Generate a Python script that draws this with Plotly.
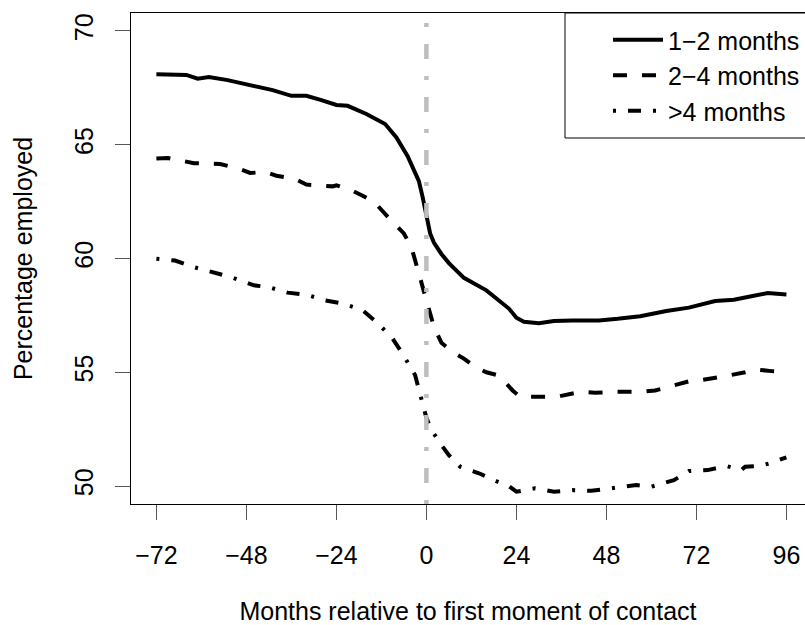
import plotly.graph_objects as go

# ---- data ----
m_12 = [-72, -68, -64, -61, -58, -53, -46, -41, -36, -32, -28, -24, -21, -16, -11,
        -8, -5, -3, -2, -1, 0, 1, 2, 4, 6, 10, 16, 19, 22, 24, 26, 30, 34, 39, 46,
        51, 57, 64, 70, 77, 82, 87, 91, 96]
v_12 = [68.10, 68.08, 68.07, 67.90, 67.98, 67.84, 67.59, 67.40, 67.15, 67.15, 66.96,
        66.75, 66.71, 66.35, 65.91, 65.32, 64.50, 63.70, 63.40, 62.70, 61.90, 61.10,
        60.70, 60.20, 59.80, 59.15, 58.60, 58.20, 57.80, 57.40, 57.22, 57.16, 57.25,
        57.28, 57.28, 57.35, 57.46, 57.69, 57.84, 58.13, 58.19, 58.35, 58.48, 58.42]

m_24 = [-72, -69, -62, -55, -50, -47, -43, -40, -35, -32, -28, -25, -24, -20, -17,
        -14, -11, -8, -6, -4, -3, -2, -1, 0, 1, 2, 4, 7, 10, 13, 16, 19, 21, 23, 25,
        30, 35, 41, 45, 50, 57, 61, 64, 67, 70, 73, 77, 81, 85, 88, 92, 96]
v_24 = [64.40, 64.42, 64.19, 64.15, 63.95, 63.76, 63.80, 63.64, 63.50, 63.25, 63.20,
        63.17, 63.22, 63.00, 62.76, 62.50, 61.96, 61.45, 61.10, 60.50, 59.90, 59.40,
        58.80, 58.20, 57.50, 57.00, 56.30, 55.89, 55.60, 55.23, 55.00, 54.87, 54.55,
        54.20, 53.92, 53.92, 53.93, 54.14, 54.10, 54.14, 54.14, 54.20, 54.33, 54.50,
        54.60, 54.65, 54.75, 54.87, 55.00, 55.12, 55.05, 55.01]

m_4p = [-72, -67, -62, -57, -52, -46, -42, -37, -32, -27, -22, -17, -13, -9, -6, -3,
        -2, -1, 0, 1, 2, 4, 6, 9, 14, 19, 22, 24, 29, 34, 39, 44, 51, 56, 60, 66, 70,
        75, 80, 84, 85, 89, 92, 96]
v_4p = [59.99, 59.91, 59.62, 59.40, 59.18, 58.82, 58.74, 58.50, 58.41, 58.16, 58.01,
        57.72, 57.16, 56.48, 55.72, 54.87, 54.20, 53.60, 53.00, 52.60, 52.30, 51.80,
        51.36, 50.85, 50.56, 50.19, 50.00, 49.75, 49.90, 49.75, 49.82, 49.79, 49.94,
        50.04, 49.97, 50.26, 50.66, 50.70, 50.88, 50.70, 50.85, 50.88, 51.02, 51.26]

series_names = ["1\u22122 months", "2\u22124 months", ">4 months"]
x_ticks = [-72, -48, -24, 0, 24, 48, 72, 96]
y_ticks = [50, 55, 60, 65, 70]
contact_month = 0

FONT = "Liberation Sans, Arial, Helvetica, sans-serif"

fig = go.Figure()
styles = ["solid", "14px,15px", "3px,12px,13px,12px"]
for name, xs, ys, dash in zip(series_names, [m_12, m_24, m_4p], [v_12, v_24, v_4p], styles):
    fig.add_trace(go.Scatter(x=xs, y=ys, mode="lines", name=name,
                             line=dict(color="black", width=4, dash=dash, shape="linear")))

fig.add_shape(type="line", xref="x", yref="paper", x0=contact_month, x1=contact_month,
              y0=0, y1=1, layer="above",
              line=dict(color="#BEBEBE", width=4.5, dash="4px,17px,15px,17px"))

# legend frame (R-style box reaching the plot's top-right corner)
fig.add_shape(type="rect", xref="paper", yref="paper",
              x0=(565 - 131) / 674, x1=1.03, y0=(504 - 138) / 491, y1=1,
              layer="above", fillcolor="white", line=dict(color="black", width=1))

fig.update_layout(
    width=805, height=625,
    margin=dict(l=131, r=0, t=13, b=121),
    paper_bgcolor="white", plot_bgcolor="white",
    font=dict(family=FONT, size=25, color="black"),
    showlegend=True,
    legend=dict(x=1, xanchor="right", y=1 - 4 / 491, yanchor="top",
                borderwidth=0, bgcolor="rgba(0,0,0,0)",
                font=dict(size=25), itemwidth=50, tracegroupgap=0),
    xaxis=dict(range=[-78.77, 100.96], tickvals=x_ticks, ticks="outside", ticklen=15,
               tickcolor="#555", tickwidth=1, showline=True, linecolor="black",
               linewidth=1, mirror=True, showgrid=False, zeroline=False,
               ticklabelstandoff=14, tickfont=dict(size=25),
               title=dict(text="Months relative to first moment of contact",
                          font=dict(size=25), standoff=36)),
    yaxis=dict(range=[49.21, 70.79], tickvals=y_ticks, ticks="outside", ticklen=15,
               tickcolor="#555", tickwidth=1, showline=True, linecolor="black",
               linewidth=1, mirror=False, showgrid=False, zeroline=False,
               tickangle=-90, ticklabelstandoff=12, tickfont=dict(size=25),
               title=dict(text="Percentage employed", font=dict(size=25), standoff=30)),
)

fig.write_html("out.html")
